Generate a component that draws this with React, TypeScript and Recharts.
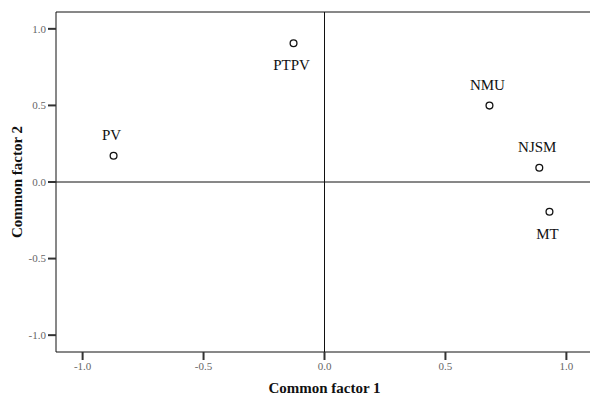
import {
  ScatterChart,
  Scatter,
  XAxis,
  YAxis,
  ReferenceLine,
} from "recharts";

// loadings
const names = ["PV", "PTPV", "NMU", "NJSM", "MT"];
const factor1 = [-0.872, -0.128, 0.682, 0.888, 0.93];
const factor2 = [0.171, 0.906, 0.499, 0.093, -0.194];
const axisTicks = [-1, -0.5, 0, 0.5, 1];

const points = names.map((name, i) => ({ name, x: factor1[i], y: factor2[i] }));

// which side of the marker each label sits on
const labelBelow: Record<string, boolean> = { PTPV: true, MT: true };

const serif = "'Liberation Serif', 'Times New Roman', serif";
const LIM = 1.11;

function Marker(props: any) {
  const { cx, cy, payload } = props;
  const below = labelBelow[payload.name];
  return (
    <g>
      <circle cx={cx} cy={cy} r={3.4} fill="#fff" stroke="#111" strokeWidth={1.3} />
      <text
        x={cx - 2}
        y={below ? cy + 22 : cy - 21}
        textAnchor="middle"
        dominantBaseline="central"
        fontFamily={serif}
        fontSize={15}
        fill="#111"
      >
        {payload.name}
      </text>
    </g>
  );
}

export default function App() {
  const tick = { fontFamily: serif, fontSize: 11, fill: "#666" };
  return (
    <div style={{ position: "absolute", left: 0, top: 0, width: 590, height: 396, overflow: "hidden", background: "#fff" }}>
      <ScatterChart width={600} height={396} margin={{ top: 12, right: 7, left: 0, bottom: 0 }}>
        <XAxis
          type="number"
          dataKey="x"
          domain={[-LIM, LIM]}
          ticks={axisTicks}
          tickFormatter={(v: number) => v.toFixed(1)}
          allowDataOverflow
          height={44}
          tickSize={8}
          tick={tick}
          axisLine={{ stroke: "#111" }}
          tickLine={{ stroke: "#333", strokeWidth: 2 }}
          label={{
            value: "Common factor 1",
            position: "insideBottom",
            offset: 3,
            style: { fontFamily: serif, fontSize: 15, fontWeight: "bold", fill: "#111" },
          }}
        />
        <YAxis
          type="number"
          dataKey="y"
          domain={[-LIM, LIM]}
          ticks={axisTicks}
          tickFormatter={(v: number) => v.toFixed(1)}
          allowDataOverflow
          width={56}
          tickSize={8}
          tick={tick}
          axisLine={{ stroke: "#111" }}
          tickLine={{ stroke: "#333", strokeWidth: 2 }}
          label={{
            value: "Common factor 2",
            angle: -90,
            position: "insideLeft",
            offset: 17,
            style: { textAnchor: "middle", fontFamily: serif, fontSize: 15, fontWeight: "bold", fill: "#111" },
          }}
        />
        <ReferenceLine y={LIM} stroke="#111" />
        <ReferenceLine x={0} stroke="#111" />
        <ReferenceLine y={0} stroke="#111" />
        <Scatter data={points} shape={<Marker />} isAnimationActive={false} />
      </ScatterChart>
    </div>
  );
}
